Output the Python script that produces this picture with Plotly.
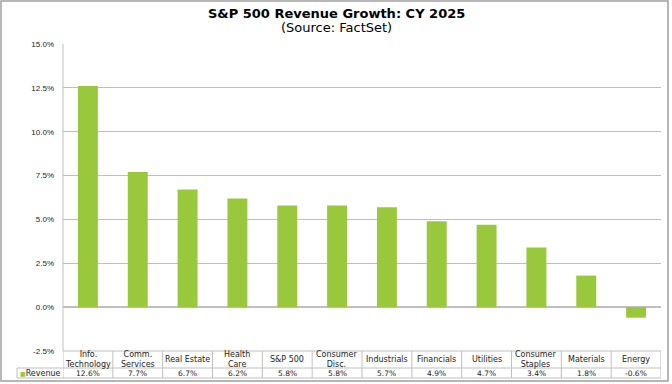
import plotly.graph_objects as go

categories = ["Info.<br>Technology", "Comm.<br>Services", "Real Estate", "Health<br>Care", "S&P 500",
              "Consumer<br>Disc.", "Industrials", "Financials", "Utilities", "Consumer<br>Staples",
              "Materials", "Energy"]
revenue = [12.6, 7.7, 6.7, 6.2, 5.8, 5.8, 5.7, 4.9, 4.7, 3.4, 1.8, -0.6]
series_name = "Revenue"
y_ticks = [-2.5, 0.0, 2.5, 5.0, 7.5, 10.0, 12.5, 15.0]

W, H = 672, 384
L, R, T, B = 63, 661, 44, 351
BAR_COLOR = "#9AC83C"
GRID = "#BFBFBF"
FONT = "Liberation Sans, Arial, sans-serif"
WIDE = "DejaVu Sans, Verdana, sans-serif"

def px(x):
    return (x - L) / (R - L)

def py(y):
    return (B - y) / (B - T)

n = len(categories)
fig = go.Figure()
fig.add_trace(go.Bar(x=list(range(n)), y=revenue, width=0.4, marker_color=BAR_COLOR,
                     marker_line_width=0, name=series_name, showlegend=False))

shapes = []
line = dict(color=GRID, width=1)
# outer frame
shapes.append(dict(type="rect", xref="paper", yref="paper", x0=px(1), x1=px(668), y0=py(381), y1=py(1),
                   line=dict(color="#A0A0A0", width=1.5), layer="below"))
# table lines
row1, row2, row3 = 351, 368, 378
shapes.append(dict(type="line", xref="paper", yref="paper", x0=0, x1=1, y0=py(row1), y1=py(row1), line=line))
for yy in (row2, row3):
    shapes.append(dict(type="line", xref="paper", yref="paper", x0=px(17), x1=1, y0=py(yy), y1=py(yy), line=line))
shapes.append(dict(type="line", xref="paper", yref="paper", x0=px(17), x1=px(17), y0=py(row2), y1=py(row3), line=line))
for k in range(n + 1):
    xx = k - 0.5
    shapes.append(dict(type="line", xref="x", yref="paper", x0=xx, x1=xx, y0=py(row1), y1=py(row3), line=line))
# left plot border
shapes.append(dict(type="line", xref="paper", yref="paper", x0=0, x1=0, y0=0, y1=1, line=line))

annotations = []
for i, (c, v) in enumerate(zip(categories, revenue)):
    annotations.append(dict(x=i, y=py((row1 + row2) / 2), xref="x", yref="paper", text=c, showarrow=False,
                            font=dict(size=8, color="#222", family=WIDE), xanchor="center", yanchor="middle"))
    annotations.append(dict(x=i, y=py((row2 + row3) / 2 + 0.5), xref="x", yref="paper", text=f"{v:.1f}%",
                            showarrow=False, font=dict(size=7.5, color="#222", family=WIDE),
                            xanchor="center", yanchor="middle"))
annotations.append(dict(x=px(40), y=py((row2 + row3) / 2 + 0.5), xref="paper", yref="paper",
                        text=f"<span style='color:{BAR_COLOR};font-size:6px'>■</span>{series_name}", showarrow=False,
                        font=dict(size=8, color="#222", family=WIDE), xanchor="center", yanchor="middle"))
annotations.append(dict(x=0.5 * (px(0) + px(672)), y=py(14), xref="paper", yref="paper",
                        text="<b>S&P 500 Revenue Growth: CY 2025</b>", showarrow=False,
                        font=dict(size=13, color="#000", family=WIDE), xanchor="center", yanchor="middle"))
annotations.append(dict(x=0.5 * (px(0) + px(672)), y=py(27.5), xref="paper", yref="paper",
                        text="(Source: FactSet)", showarrow=False,
                        font=dict(size=13, color="#000", family=WIDE), xanchor="center", yanchor="middle"))

fig.update_layout(
    width=W, height=H,
    margin=dict(l=L, r=W - R, t=T, b=H - B, pad=0),
    paper_bgcolor="white", plot_bgcolor="white",
    shapes=shapes, annotations=annotations,
    xaxis=dict(range=[-0.5, n - 0.5], showticklabels=False, showgrid=False, zeroline=False,
               showline=False, fixedrange=True),
    yaxis=dict(range=[-2.5, 15], tickvals=y_ticks, ticktext=[f"{t:.1f}%" for t in y_ticks],
               showgrid=True, gridcolor=GRID, gridwidth=1, zeroline=True, zerolinecolor=GRID,
               zerolinewidth=2, showline=False, ticks="", ticklabelstandoff=8,
               tickfont=dict(size=8, color="#222", family=FONT)),
    font=dict(family=FONT),
    bargap=0.6,
)

fig.write_html("out.html", config={"displayModeBar": False},
               post_script="document.body.style.margin='0';document.body.style.padding='0';")
